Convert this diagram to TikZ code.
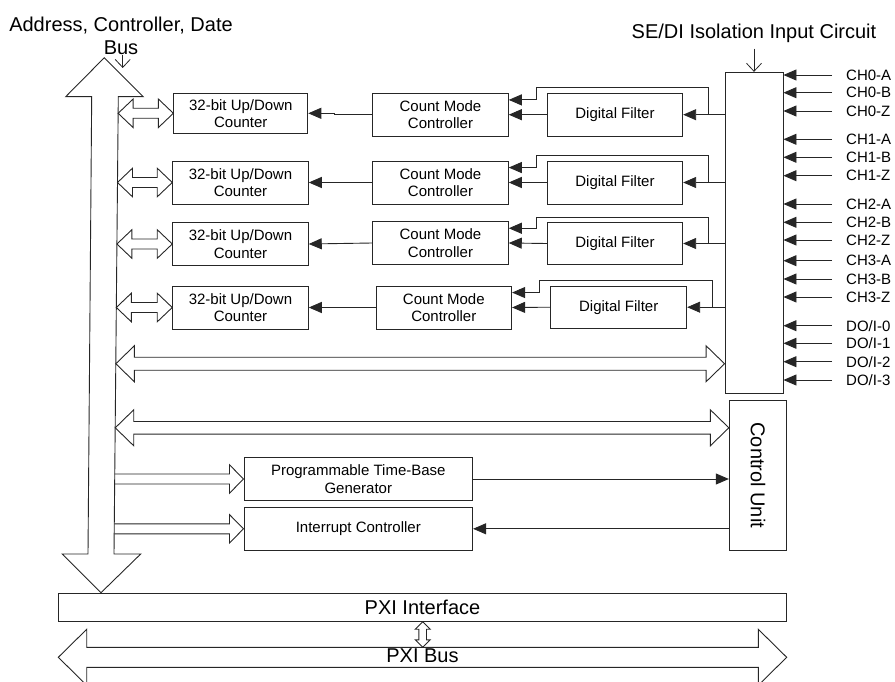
\documentclass[tikz,border=0pt]{standalone}
\usepackage{fontspec}
\setmainfont{Liberation Sans}
\usepackage{graphicx}
\usetikzlibrary{arrows.meta,calc}

\tikzset{
  ln/.style={draw=black!85, line width=0.9pt},
  box/.style={ln, rectangle, inner sep=0pt, align=center, font=\fontsize{15}{17.3}\selectfont},
  sig/.style={ln, -{Triangle[length=13pt,width=11pt]}},
  feed/.style={ln, line width=0.8pt, -{Straight Barb[length=8pt,width=15pt]}},
  lbl/.style={font=\fontsize{15}{17}\selectfont, inner sep=2pt, anchor=west},
  big/.style={font=\fontsize{20}{23}\selectfont, inner sep=0pt, align=center},
  wide/.style={ln, line join=miter},
}

% horizontal double-headed block arrow: left tip #1, right tip #2,
% head length #3, head half-width #4, shaft half-width #5
\newcommand\hdouble[5]{%
  \draw[wide] let \p1=(#1), \p2=(#2) in
    (\x1,\y2) -- ({\x1+#3pt},{\y2+#4pt}) -- ({\x1+#3pt},{\y2+#5pt})
    -- ({\x2-#3pt},{\y2+#5pt}) -- ({\x2-#3pt},{\y2+#4pt}) -- (\x2,\y2)
    -- ({\x2-#3pt},{\y2-#4pt}) -- ({\x2-#3pt},{\y2-#5pt})
    -- ({\x1+#3pt},{\y2-#5pt}) -- ({\x1+#3pt},{\y2-#4pt}) -- cycle;}
% single-headed block arrow with an open tail
\newcommand\hsingle[5]{%
  \draw[wide] let \p1=(#1), \p2=(#2) in
    (\x1,{\y2+#5pt}) -- ({\x2-#3pt},{\y2+#5pt}) -- ({\x2-#3pt},{\y2+#4pt})
    -- (\x2,\y2) -- ({\x2-#3pt},{\y2-#4pt}) -- ({\x2-#3pt},{\y2-#5pt})
    -- (\x1,{\y2-#5pt});}
% vertical double-headed block arrow: top tip #1, bottom tip #2
\newcommand\vdouble[5]{%
  \draw[wide] let \p1=(#1), \p2=(#2) in
    (\x1,\y1) -- ({\x1+#4pt},{\y1-#3pt}) -- ({\x1+#5pt},{\y1-#3pt})
    -- ({\x1+#5pt},{\y2+#3pt}) -- ({\x1+#4pt},{\y2+#3pt}) -- (\x1,\y2)
    -- ({\x1-#4pt},{\y2+#3pt}) -- ({\x1-#5pt},{\y2+#3pt})
    -- ({\x1-#5pt},{\y1-#3pt}) -- ({\x1-#4pt},{\y1-#3pt}) -- cycle;}

\begin{document}
\begin{tikzpicture}[x=1pt,y=-1pt]
\useasboundingbox (0,0) rectangle (895,682);
\clip (0,0) rectangle (895,682);

% ---- titles ----
\node[big] (bustitle) at (121,36) {Address, Controller, Date\\Bus};
\node[big] (setitle) at (754,33) {SE/DI Isolation Input Circuit};

% ---- internal address / control / data bus ----
\coordinate (busR1) at (118.3,96.7);
\coordinate (busR2) at (114,554);
\coordinate (busIn) at (122.7,68);
\draw[wide] (104.3,57.7) -- (143.3,96.7) -- (busR1) -- (busR2) -- (140.7,554)
  -- (101,592.7) -- (62.3,554) -- (88,554) -- (91.7,96.7) -- (65.7,96.7) -- cycle;
\draw[feed] (bustitle.south -| busIn) -- (busIn);

% ---- counter channels ----
\node[box, minimum width=134pt, minimum height=40pt] (cnt1) at (240.8,113.3) {32-bit Up/Down\\Counter};
\node[box, minimum width=135.6pt, minimum height=43pt] (cnt2) at (240.5,182.5) {32-bit Up/Down\\Counter};
\node[box, minimum width=135.6pt, minimum height=43pt] (cnt3) at (240.5,244) {32-bit Up/Down\\Counter};
\node[box, minimum width=135.6pt, minimum height=43pt] (cnt4) at (240.5,307.5) {32-bit Up/Down\\Counter};

\node[box, minimum width=135.6pt, minimum height=42.7pt] (cmc1) at (440.5,114.7) {Count Mode\\Controller};
\node[box, minimum width=135.6pt, minimum height=43pt] (cmc2) at (440.5,182.5) {Count Mode\\Controller};
\node[box, minimum width=135.6pt, minimum height=42.6pt] (cmc3) at (440.5,243) {Count Mode\\Controller};
\node[box, minimum width=135.7pt, minimum height=43pt] (cmc4) at (443.8,307.5) {Count Mode\\Controller};

\node[box, minimum width=135.4pt, minimum height=42.7pt] (flt1) at (615,114.7) {Digital Filter};
\node[box, minimum width=135.4pt, minimum height=43pt] (flt2) at (615,182.5) {Digital Filter};
\node[box, minimum width=135.4pt, minimum height=41.6pt] (flt3) at (615,243.5) {Digital Filter};
\node[box, minimum width=136pt, minimum height=42.3pt] (flt4) at (618.7,307.2) {Digital Filter};

\node[box, minimum width=58pt, minimum height=321pt] (iso) at (754,232.8) {};

% counter data paths to the bus
\foreach \c in {cnt1,cnt2,cnt3,cnt4}
  \hdouble{$(busR1)!(\c.west)!(busR2)$}{\c.west}{15}{14.3}{5};

% controller -> counter
\draw[sig] (cmc1.west) -- ++(-37.7,0) |- (cnt1.east);
\foreach \i in {2,3,4} \draw[sig] (cmc\i.west) -- (cnt\i.east);

% isolation -> filter -> controller, with direct bypass
\foreach \i in {1,2,3,4} {
  \draw[sig] (flt\i.east -| iso.west) -- (flt\i.east);
  \draw[sig] (flt\i.west) -- (cmc\i.east);
  \draw[sig] ([xshift=25pt]flt\i.east) |- ([xshift=-10.5pt,yshift=5pt]flt\i.north west)
    |- ([yshift=-7pt]cmc\i.north east);
}

% ---- field inputs ----
\foreach \n/\t/\yy in {c0a/CH0-A/75, c0b/CH0-B/92.7, c0z/CH0-Z/111,
    c1a/CH1-A/139.3, c1b/CH1-B/157.3, c1z/CH1-Z/175.7,
    c2a/CH2-A/204, c2b/CH2-B/222.3, c2z/CH2-Z/240,
    c3a/CH3-A/260.7, c3b/CH3-B/279, c3z/CH3-Z/297,
    d0/{DO/I-0}/325.7, d1/{DO/I-1}/343.3, d2/{DO/I-2}/361.7, d3/{DO/I-3}/380} {
  \node[lbl] (\n) at (844,\yy) {\t};
  \draw[sig] ([xshift=-12pt]\n.west) -- (\n.west -| iso.east);
}
\draw[feed] ([yshift=-6pt]setitle.south) -- (iso.north);

% ---- control section ----
\node[box, minimum width=57.4pt, minimum height=149.3pt] (cu) at (758,475.3)
  {\fontsize{20}{23}\selectfont\rotatebox{-90}{Control Unit}};
\node[box, minimum width=228.7pt, minimum height=42.6pt] (tbg) at (358.3,479) {Programmable Time-Base\\Generator};
\node[box, minimum width=228.7pt, minimum height=42.3pt] (ic) at (358.3,528.8) {Interrupt Controller};

\hdouble{$(busR1)!([yshift=30pt]iso.south west)!(busR2)$}{[yshift=30pt]iso.south west}{18.5}{18}{6.5};
\hdouble{$(busR1)!([yshift=-27.6pt]cu.north west)!(busR2)$}{[yshift=-27.6pt]cu.north west}{18.5}{18}{6.3};
\hsingle{$(busR1)!(tbg.west)!(busR2)$}{tbg.west}{14}{14.2}{5};
\hsingle{$(busR1)!(ic.west)!(busR2)$}{ic.west}{14}{14.2}{5};

\draw[sig] (tbg.east) -- (tbg.east -| cu.west);
\draw[sig] (ic.east -| cu.west) -- (ic.east);

% ---- PXI ----
\node[box, font=\fontsize{20}{23}\selectfont, minimum width=728.4pt, minimum height=28pt] (pxi) at (422.5,607.3) {PXI Interface};
\node[big] (pxibus) at (422.5,656) {PXI Bus};
\coordinate (pbL) at (58.3,657.3);
\coordinate (pbR) at (786.7,657.3);
\coordinate (pbTop) at (422.7,647.3);
\hdouble{pbL}{pbR}{28.4}{28}{10};
\vdouble{pxi.south -| pbTop}{pbTop}{7.5}{7.5}{3.8};

\end{tikzpicture}
\end{document}
